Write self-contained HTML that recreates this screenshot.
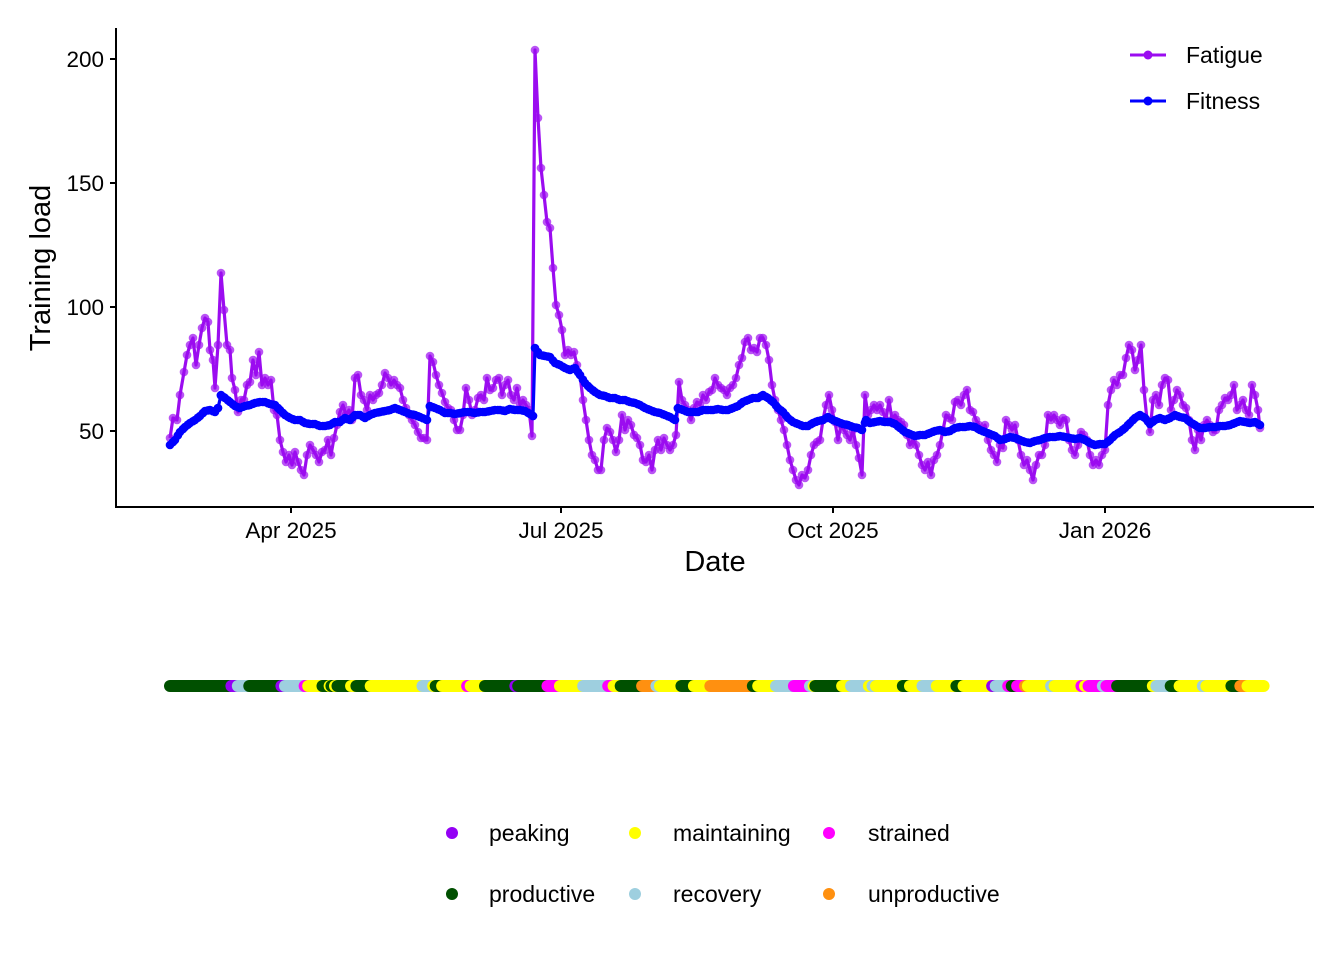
<!DOCTYPE html>
<html><head><meta charset="utf-8"><style>
html,body{margin:0;padding:0;background:#fff;}
svg{display:block;font-family:"Liberation Sans",Arial,sans-serif;}
</style></head><body>
<svg id="s" width="1344" height="960" viewBox="0 0 1344 960" xmlns="http://www.w3.org/2000/svg">
<rect width="1344" height="960" fill="#fff"/>
<g id="plot"></g>
<line x1="116" y1="28" x2="116" y2="507" stroke="#000" stroke-width="2"/>
<line x1="115" y1="507" x2="1314" y2="507" stroke="#000" stroke-width="2"/>
<g stroke="#000" stroke-width="2">
<line x1="110" y1="431" x2="116" y2="431"/><line x1="110" y1="307" x2="116" y2="307"/>
<line x1="110" y1="183" x2="116" y2="183"/><line x1="110" y1="59" x2="116" y2="59"/>
<line x1="291" y1="507" x2="291" y2="513"/><line x1="561" y1="507" x2="561" y2="513"/>
<line x1="833" y1="507" x2="833" y2="513"/><line x1="1105" y1="507" x2="1105" y2="513"/>
</g>
<g font-size="22.5" fill="#000" text-anchor="end">
<text x="104" y="439">50</text><text x="104" y="315">100</text>
<text x="104" y="191">150</text><text x="104" y="67">200</text>
</g>
<g font-size="22.5" fill="#000" text-anchor="middle">
<text x="291" y="538">Apr 2025</text><text x="561" y="538">Jul 2025</text>
<text x="833" y="538">Oct 2025</text><text x="1105" y="538">Jan 2026</text>
<text x="715" y="571" font-size="29">Date</text>
<text transform="translate(50,268) rotate(-90)" font-size="29">Training load</text>
</g>
<line x1="1130" y1="55" x2="1166" y2="55" stroke="#9b0cf0" stroke-width="3"/><circle cx="1148" cy="55" r="4.5" fill="#9b0cf0"/>
<line x1="1130" y1="101" x2="1166" y2="101" stroke="#0000ff" stroke-width="3"/><circle cx="1148" cy="101" r="4.5" fill="#0000ff"/>
<text x="1186" y="63" font-size="23">Fatigue</text>
<text x="1186" y="109" font-size="23">Fitness</text>
<g id="strip"></g>
<g font-size="23" fill="#000">
<circle cx="452" cy="833" r="6" fill="#9400f5"/><text x="489" y="841">peaking</text>
<circle cx="635" cy="833" r="6" fill="#ffff00"/><text x="673" y="841">maintaining</text>
<circle cx="829" cy="833" r="6" fill="#ff00ff"/><text x="868" y="841">strained</text>
<circle cx="452" cy="894" r="6" fill="#005000"/><text x="489" y="902">productive</text>
<circle cx="635" cy="894" r="6" fill="#9ecfdf"/><text x="673" y="902">recovery</text>
<circle cx="829" cy="894" r="6" fill="#ff9010"/><text x="868" y="902">unproductive</text>
</g>
</svg>
<script>
var F="170,438 173,418 177,420 180,395 184,372 187,355 190,345 193,338 196,365 199,345 202,328 205,318 208,322 210,350 213,360 215,388 218,345 221,273 224,310 227,345 230,350 232,378 235,390 238,412 241,400 244,400 247,385 250,382 253,360 256,375 259,352 262,385 265,378 268,385 271,380 274,410 277,415 280,440 283,452 286,462 289,455 292,465 295,452 298,462 301,470 304,475 307,455 310,445 313,450 316,455 319,462 322,452 325,450 328,440 331,455 334,438 337,425 340,412 343,405 346,415 349,410 352,420 355,378 358,375 361,395 364,400 367,410 370,395 373,400 376,395 379,393 382,385 385,373 388,378 391,385 394,380 397,385 400,388 403,400 406,408 409,415 412,420 415,425 418,432 421,438 424,438 427,440 430,356 433,362 436,375 439,385 442,393 445,402 448,408 451,410 454,420 457,430 460,430 463,415 466,388 469,400 472,415 475,410 478,398 481,395 484,400 487,378 490,390 493,388 496,380 499,378 502,395 505,385 508,380 511,395 514,400 517,388 520,405 523,400 526,405 529,410 532,436 535,50 538,118 541,168 544,195 547,222 550,228 553,268 556,305 559,315 562,330 565,355 568,350 571,355 574,352 577,365 580,375 583,400 586,420 589,440 592,455 595,460 598,470 601,470 604,440 607,428 610,432 613,440 616,452 619,440 622,415 625,430 628,420 631,425 634,435 637,438 640,445 643,460 646,462 649,455 652,470 655,450 658,440 661,450 664,438 667,445 670,450 673,445 676,435 679,382 682,400 685,405 688,410 691,420 694,408 697,402 700,405 703,395 706,400 709,392 712,390 715,378 718,385 721,388 724,390 727,395 730,388 733,385 736,378 739,365 742,358 745,342 748,338 751,350 754,348 757,352 760,338 763,338 766,345 769,360 772,385 775,400 778,410 781,420 784,430 787,445 790,460 793,470 796,480 799,485 802,475 805,478 808,470 811,455 814,445 817,442 820,440 823,420 826,405 829,395 832,410 835,422 838,440 841,425 844,430 847,435 850,440 853,430 856,445 859,458 862,475 865,395 868,415 871,410 874,405 877,410 880,405 883,412 886,420 889,400 892,420 895,415 898,420 901,422 904,425 907,435 910,445 913,440 916,445 919,455 922,465 925,470 928,462 931,475 934,460 937,455 940,445 943,430 946,415 949,418 952,420 955,402 958,400 961,405 964,395 967,390 970,410 973,412 976,420 979,425 982,430 985,425 988,440 991,450 994,455 997,462 1000,445 1003,448 1006,420 1009,425 1012,430 1015,425 1018,440 1021,455 1024,465 1027,460 1030,470 1033,480 1036,465 1039,455 1042,455 1045,445 1048,415 1051,420 1054,415 1057,420 1060,425 1063,418 1066,420 1069,440 1072,450 1075,455 1078,445 1081,432 1084,435 1087,440 1090,455 1093,465 1096,460 1099,465 1102,455 1105,450 1108,405 1111,390 1114,380 1117,385 1120,375 1123,375 1126,358 1129,345 1132,350 1135,370 1138,360 1141,345 1144,390 1147,420 1150,432 1153,400 1156,395 1159,405 1162,385 1165,378 1168,380 1171,410 1174,400 1177,390 1180,395 1183,405 1186,408 1189,420 1192,440 1195,450 1198,430 1201,440 1204,425 1207,420 1210,425 1213,432 1216,430 1219,410 1222,405 1225,398 1228,400 1231,395 1234,385 1237,410 1240,405 1243,400 1246,410 1249,415 1252,385 1255,395 1258,410 1260,428";
var T="170,445 175,440 180,432 185,427 190,423 195,420 200,416 205,411 210,410 215,412 218,408 221,395 225,398 230,402 235,406 240,408 245,406 250,405 255,403 260,402 265,402 270,404 275,405 280,410 285,415 290,418 295,420 300,420 305,423 310,424 315,424 320,426 325,426 330,425 335,422 340,422 345,418 350,420 355,415 360,415 365,418 370,415 375,413 380,412 385,411 390,410 395,408 400,410 405,412 410,414 415,415 420,417 427,420 430,406 435,408 440,410 445,413 450,413 455,414 460,413 465,412 470,412 475,413 480,412 485,412 490,411 495,410 500,410 505,411 510,409 515,410 520,410 525,411 530,414 533,416 535,348 540,355 545,356 550,357 555,363 560,365 565,368 570,370 575,368 580,375 585,383 590,388 595,392 600,395 605,396 610,398 615,398 620,400 625,400 630,402 635,403 640,405 645,408 650,410 655,412 660,413 665,415 670,417 675,420 678,408 683,410 688,412 693,412 698,412 703,410 708,410 713,410 718,409 723,410 728,410 733,408 738,406 743,402 748,400 753,398 758,398 763,395 768,398 773,402 778,408 783,412 788,418 793,422 798,424 803,426 808,426 813,423 818,421 823,420 828,417 833,420 838,422 843,424 848,425 853,427 858,428 862,430 866,420 870,423 875,422 880,421 885,422 890,422 895,424 900,428 905,432 910,434 915,436 920,435 925,435 930,433 935,431 940,430 945,432 950,431 955,428 960,427 965,427 970,426 975,427 980,430 985,432 990,434 995,436 1000,440 1005,439 1010,437 1015,438 1020,440 1025,442 1030,443 1035,441 1040,440 1045,438 1050,437 1055,437 1060,436 1065,437 1070,438 1075,439 1080,438 1085,440 1090,443 1095,445 1100,444 1105,444 1110,440 1115,435 1120,432 1125,428 1130,423 1135,418 1140,415 1145,418 1150,424 1155,420 1160,418 1165,420 1170,418 1175,415 1180,417 1185,418 1190,422 1195,425 1200,428 1205,428 1210,427 1215,427 1220,426 1225,426 1230,425 1235,423 1240,421 1245,422 1250,423 1255,422 1260,425";
var NS="http://www.w3.org/2000/svg",plot=document.getElementById("plot");
function el(t,a,p){var e=document.createElementNS(NS,t);for(var k in a)e.setAttribute(k,a[k]);p.appendChild(e);return e;}
function series(str,col,op){var pts=str.split(" ").map(function(p){return p.split(",").map(Number);});
el("polyline",{points:str,fill:"none",stroke:col,"stroke-width":3.2,"stroke-linejoin":"round"},plot);
pts.forEach(function(p){el("circle",{cx:p[0],cy:p[1],r:4.3,fill:col,"fill-opacity":op},plot);});
if(col=="#0000ff"){for(var i=0;i<pts.length-1;i++){var a=pts[i],b=pts[i+1];for(var x=a[0]+2.9;x<b[0];x+=2.97){var y=a[1]+(b[1]-a[1])*(x-a[0])/(b[0]-a[0]);el("circle",{cx:x,cy:y,r:4.3,fill:col},plot);}}}}
series(F,"#9b0cf0",0.7);series(T,"#0000ff",1);
var C={g:"#005000",p:"#9400f5",b:"#9ecfdf",m:"#ff00ff",y:"#ffff00",o:"#ff9010"};
var S1="g 12 200,p 200 218,b 218 250,g 250 340,p 340 350,b 350 405,m 405 415,y 415 455,g 455 475,y 475 480,g 480 490,y 490 497,g 497 535,y 535 550,g 550 590,y 590 735,b 735 765,y 765 772,g 772 790,y 790 860,m 860 870,y 870 910,g 910 995,p 995 1003,g 1003 1085,m 1085 1120,y 1120 1185,b 1185 1255,m 1255 1270,y 1270 1290,g 1290 1350,o 1350 1390,b 1390 1400,y 1400 1460,g 1460 1495,y 1495 1555";
var S2="o 1 120,g 120 135,y 135 185,b 185 235,m 235 280,b 280 290,y 290 295,g 295 370,y 370 395,b 395 445,y 445 455,b 455 465,y 465 540,g 540 560,y 560 595,b 595 635,y 635 690,g 690 710,y 710 790,p 790 800,b 800 835,m 835 845,g 845 860,m 860 882,o 882 890,y 890 955,b 955 965,y 965 1040,m 1040 1050,y 1050 1060,m 1060 1100,b 1100 1110,m 1110 1140,g 1140 1240,y 1240 1250,b 1250 1290,g 1290 1315,y 1315 1380,b 1380 1390,y 1390 1460,g 1460 1485,o 1485 1505,y 1505 1550";
var strip=document.getElementById("strip");
function draw(s,base){s.split(",").forEach(function(q){var a=q.split(" ");var x1=base+(+a[1])/2.8,x2=base+(+a[2])/2.8;
el("line",{x1:Math.max(x1,base===160?170:x1),y1:686,x2:x2,y2:686,stroke:C[a[0]],"stroke-width":12,"stroke-linecap":"round"},strip);});}
draw(S1,160);draw(S2,710);
</script>
</body></html>
